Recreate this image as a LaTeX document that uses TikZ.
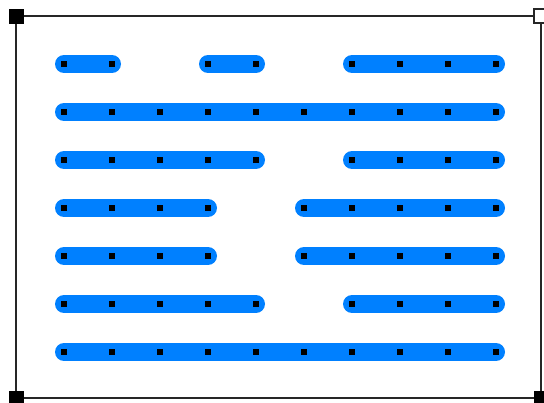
\documentclass[tikz,border=0pt]{standalone}
\begin{document}
\begin{tikzpicture}[x=1pt,y=-1pt,
  frameline/.style={draw=black!85,line width=1.3pt},
  cornerfill/.style={draw=black,fill=black,minimum size=14pt,inner sep=0pt,rectangle},
  corneropen/.style={draw=black!85,fill=white,line width=1.2pt,minimum size=14pt,inner sep=0pt,rectangle},
  bar/.style={draw={rgb,255:red,0;green,128;blue,255},line width=18pt,line cap=round},
  marker/.style={rectangle,fill=black,minimum size=6.5pt,inner sep=0pt}]
\useasboundingbox (0,0) rectangle (544,403);
% frame
\coordinate (tl) at (16,16);
\coordinate (tr) at (541,16);
\coordinate (bl) at (16,398);
\coordinate (br) at (541,398);
\draw[frameline] (tl) -- (tr) -- (br) -- (bl) -- cycle;
\node[cornerfill] (ctl) at (tl) {};
\node[corneropen] (ctr) at (tr) {};
\node[cornerfill] (cbl) at (bl) {};
\node[cornerfill] (cbr) at (br) {};
% grid points
\foreach \r in {1,...,7}{
  \foreach \c in {1,...,10}{
    \coordinate (p-\r-\c) at ({16+48*\c},{16+48*\r});
  }
}
% bars
\draw[bar] (p-1-1) -- (p-1-2);
\draw[bar] (p-1-4) -- (p-1-5);
\draw[bar] (p-1-7) -- (p-1-10);
\draw[bar] (p-2-1) -- (p-2-10);
\draw[bar] (p-3-1) -- (p-3-5);
\draw[bar] (p-3-7) -- (p-3-10);
\draw[bar] (p-4-1) -- (p-4-4);
\draw[bar] (p-4-6) -- (p-4-10);
\draw[bar] (p-5-1) -- (p-5-4);
\draw[bar] (p-5-6) -- (p-5-10);
\draw[bar] (p-6-1) -- (p-6-5);
\draw[bar] (p-6-7) -- (p-6-10);
\draw[bar] (p-7-1) -- (p-7-10);
% markers
\foreach \r/\c in {1/1,1/2,1/4,1/5,1/7,1/8,1/9,1/10,
  2/1,2/2,2/3,2/4,2/5,2/6,2/7,2/8,2/9,2/10,
  3/1,3/2,3/3,3/4,3/5,3/7,3/8,3/9,3/10,
  4/1,4/2,4/3,4/4,4/6,4/7,4/8,4/9,4/10,
  5/1,5/2,5/3,5/4,5/6,5/7,5/8,5/9,5/10,
  6/1,6/2,6/3,6/4,6/5,6/7,6/8,6/9,6/10,
  7/1,7/2,7/3,7/4,7/5,7/6,7/7,7/8,7/9,7/10}{
  \node[marker] (m-\r-\c) at (p-\r-\c) {};
}
\end{tikzpicture}
\end{document}
